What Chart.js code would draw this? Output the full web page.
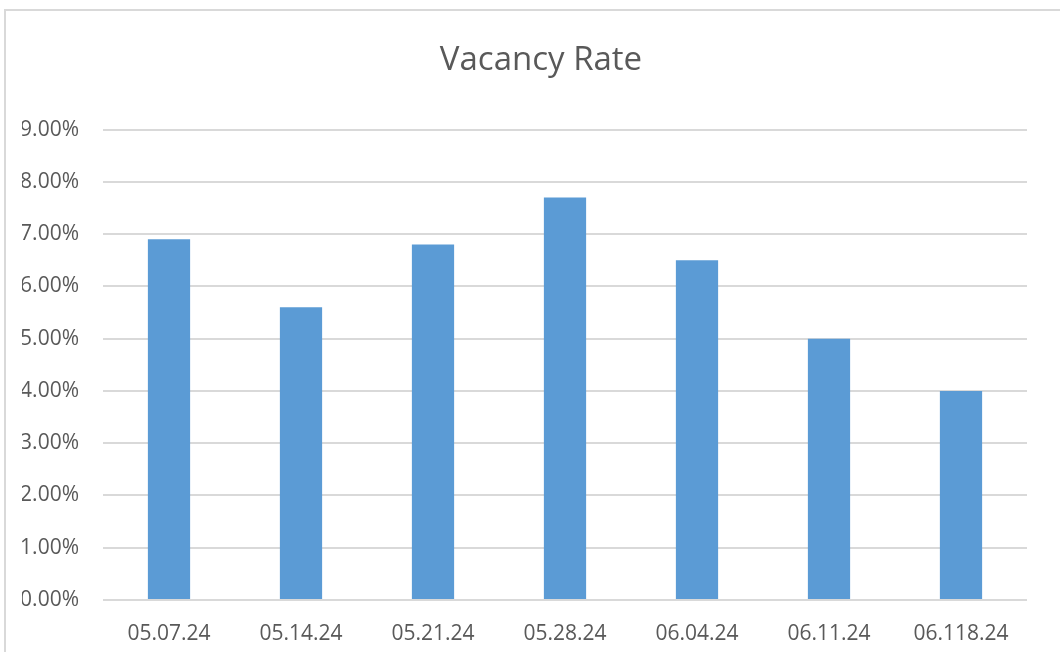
<!DOCTYPE html>
<html>
<head>
<meta charset="utf-8">
<title>Vacancy Rate</title>
<script src="https://cdn.jsdelivr.net/npm/chart.js@4.4.1/dist/chart.umd.min.js"></script>
<style>
  html, body { margin: 0; padding: 0; background: #fff; overflow: hidden; }
  body { width: 1060px; height: 652px; position: relative; }
  #frame {
    position: absolute; left: 4px; top: 9px;
    width: 1100px; height: 700px;
    border-left: 2px solid #d9d9d9; border-top: 2px solid #d9d9d9;
  }
  #wrap { position: absolute; left: 0; top: 0; width: 1060px; height: 652px; }
</style>
</head>
<body>
<div id="frame"></div>
<div id="wrap"><canvas id="chart" width="1060" height="652"></canvas></div>
<script>
// data
const labels = ["05.07.24", "05.14.24", "05.21.24", "05.28.24", "06.04.24", "06.11.24", "06.118.24"];
const vacancy = [6.9, 5.6, 6.8, 7.7, 6.5, 5.0, 4.0];
const yTicks = [0, 1, 2, 3, 4, 5, 6, 7, 8, 9];

const FONT = "'Open Sans', 'Noto Sans', sans-serif";
const TEXT = "#595959";
const GRID = "#d9d9d9";

new Chart(document.getElementById("chart"), {
  type: "bar",
  data: {
    labels: labels,
    datasets: [{
      label: "Vacancy Rate",
      data: vacancy,
      backgroundColor: "#5b9bd5",
      borderWidth: 0,
      barPercentage: 0.32,
      categoryPercentage: 1
    }]
  },
  options: {
    responsive: false,
    animation: false,
    // left padding shifts the title centre to where the frame's centre is
    layout: { padding: { left: 22, right: 0, top: 0, bottom: 0 } },
    plugins: {
      legend: { display: false },
      tooltip: { enabled: false },
      title: {
        display: true,
        text: "Vacancy Rate",
        color: TEXT,
        font: { family: FONT, size: 33, weight: "normal" },
        padding: { top: 41, bottom: 49 }
      }
    },
    scales: {
      x: {
        grid: { display: false, drawTicks: false },
        border: { display: false },
        ticks: { color: TEXT, font: { family: FONT, size: 21 }, padding: 21, maxRotation: 0, autoSkip: false },
        afterFit: (s) => { s.height = 52; }
      },
      y: {
        min: 0,
        max: 9,
        afterBuildTicks: (s) => { s.ticks = yTicks.map(v => ({ value: v })); },
        grid: { color: GRID, lineWidth: 2, drawTicks: false },
        border: { display: false },
        ticks: {
          color: TEXT,
          font: { family: FONT, size: 21 },
          padding: 24,
          callback: (v) => v.toFixed(2) + "%"
        },
        afterFit: (s) => { s.width = 81; }
      },
      yRight: {
        position: "right",
        min: 0,
        max: 9,
        grid: { display: false, drawTicks: false },
        border: { display: false },
        ticks: { display: false },
        afterFit: (s) => { s.width = 33; }
      }
    }
  }
});
</script>
</body>
</html>
